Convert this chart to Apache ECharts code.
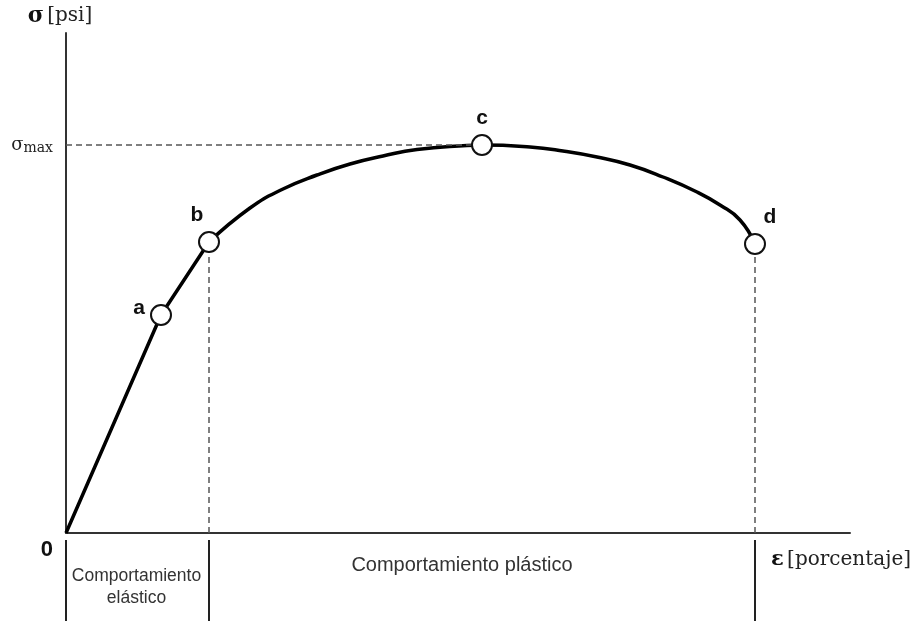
<!DOCTYPE html>
<html>
<head>
<meta charset="utf-8">
<script src="https://cdn.jsdelivr.net/npm/echarts@6/dist/echarts.min.js"></script>
<style>
  html, body { margin: 0; padding: 0; background: #fff; }
  #chart { width: 919px; height: 621px; }
</style>
</head>
<body>
<div id="chart"></div>
<script>
// strain / stress in arbitrary units (axis spans 0-784 x 0-500)
var elasticX = [0, 95, 143];
var elasticY = [0, 218, 291];
var plasticX = [143, 184, 217, 251, 284, 317, 351, 401, 416, 464, 497, 531, 564, 597, 631, 654, 674, 689];
var plasticY = [291, 325, 344, 358, 369, 377, 383.5, 387.5, 388, 386, 382, 376, 368, 356, 341, 328, 313, 289];
var pointNames = ["a", "b", "c", "d"];
var pointX = [95, 143, 416, 689];
var pointY = [218, 291, 388, 289];
var sigmaMax = 388;
var phaseEdges = [0, 143, 689];
var phaseNames = ["Comportamiento\nelástico", "Comportamiento plástico"];

var zip = function (xs, ys) {
  return xs.map(function (x, i) { return [x, ys[i]]; });
};

var labelPos = [
  { position: "left", offset: [0, -7] },
  { position: "top", offset: [-12, 0] },
  { position: "top", offset: [0, 0] },
  { position: "top", offset: [15, 0] },
];

var chart = echarts.init(document.getElementById("chart"));
chart.setOption({
  animation: false,
  grid: [
    { left: 66, right: 69, top: 33, bottom: 88 },
    { left: 66, right: 69, top: 540, bottom: 0 },
  ],
  xAxis: [
    {
      type: "value", gridIndex: 0, min: 0, max: 784,
      axisLine: { show: true, lineStyle: { color: "#333", width: 2 } },
      axisTick: { show: false },
      axisLabel: { show: false },
      splitLine: { show: false },
    },
    { type: "value", gridIndex: 1, min: 0, max: 784, show: false },
  ],
  yAxis: [
    {
      type: "value", gridIndex: 0, min: 0, max: 500,
      name: "{s|σ} {u|[psi]}",
      nameLocation: "end",
      nameGap: 6,
      nameTextStyle: {
        padding: [0, 12, 0, 0],
        rich: {
          s: { fontFamily: "DejaVu Serif", fontWeight: "bold", fontSize: 22, color: "#111" },
          u: { fontFamily: "DejaVu Serif", fontSize: 20, color: "#222" },
        },
      },
      axisLine: { show: true, lineStyle: { color: "#333", width: 2 } },
      axisTick: { show: false },
      splitLine: { show: false },
      axisLabel: {
        customValues: [0, sigmaMax],
        margin: 13,
        formatter: function (v) {
          return v === 0 ? "{z|0}" : "{s|σ}{m|max}";
        },
        rich: {
          z: { fontFamily: "Liberation Sans", fontWeight: "bold", fontSize: 22, color: "#111", padding: [34, 0, 0, 0] },
          s: { fontFamily: "DejaVu Serif", fontSize: 18, color: "#222" },
          m: { fontFamily: "DejaVu Serif", fontSize: 14, color: "#222", padding: [6, 0, 0, 0] },
        },
      },
    },
    { type: "value", gridIndex: 1, min: 0, max: 1, show: false },
  ],
  series: [
    {
      type: "line",
      data: zip(elasticX, elasticY),
      showSymbol: false,
      lineStyle: { color: "#000", width: 3.5 },
      silent: true,
    },
    {
      type: "line",
      data: zip(plasticX, plasticY),
      smooth: 0.5,
      showSymbol: false,
      lineStyle: { color: "#000", width: 3.5 },
      silent: true,
      markLine: {
        silent: true,
        symbol: "none",
        label: { show: false },
        lineStyle: { color: "#555", width: 1.5, type: [6, 4] },
        data: [
          [{ coord: [0, sigmaMax] }, { coord: [pointX[2], sigmaMax] }],
          [{ coord: [pointX[1], 0] }, { coord: [pointX[1], pointY[1]] }],
          [{ coord: [pointX[3], 0] }, { coord: [pointX[3], pointY[3]] }],
        ],
      },
    },
    {
      type: "scatter",
      z: 5,
      symbolSize: 20,
      itemStyle: { color: "#fff", borderColor: "#111", borderWidth: 2, opacity: 1 },
      label: {
        show: true,
        fontFamily: "Liberation Sans",
        fontWeight: "bold",
        fontSize: 21,
        color: "#111",
        formatter: function (p) { return pointNames[p.dataIndex]; },
      },
      data: pointX.map(function (x, i) {
        return { value: [x, pointY[i]], label: labelPos[i] };
      }),
    },
    {
      type: "line",
      xAxisIndex: 1,
      yAxisIndex: 1,
      data: [],
      silent: true,
      markLine: {
        silent: true,
        symbol: "none",
        label: { show: false },
        lineStyle: { color: "#222", width: 2, type: "solid" },
        data: phaseEdges.map(function (x) { return { xAxis: x }; }),
      },
      markArea: {
        silent: true,
        itemStyle: { color: "rgba(0,0,0,0)" },
        data: [
          [
            { xAxis: phaseEdges[0], label: { fontSize: 17.5, offset: [-1, 7], lineHeight: 22 } },
            { xAxis: phaseEdges[1] },
          ],
          [
            { xAxis: phaseEdges[1], label: { fontSize: 20, offset: [-20, -15] } },
            { xAxis: phaseEdges[2] },
          ],
        ].map(function (d, i) {
          d[0].name = phaseNames[i];
          return d;
        }),
        label: {
          show: true,
          position: "inside",
          fontFamily: "Liberation Sans",
          color: "#333",
        },
      },
    },
  ],
  graphic: [
    {
      type: "text",
      left: 771,
      top: 549,
      style: {
        text: "{e|ε} {u|[porcentaje]}",
        rich: {
          e: { fontFamily: "DejaVu Serif", fontWeight: "bold", fontSize: 21, fill: "#111" },
          u: { fontFamily: "DejaVu Serif", fontSize: 20, fill: "#222" },
        },
      },
    },
  ],
});
</script>
</body>
</html>
